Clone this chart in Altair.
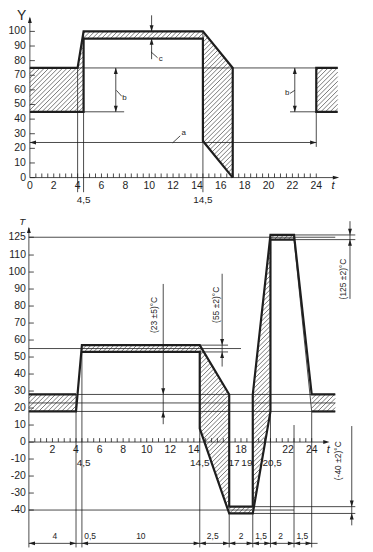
import altair as alt
import pandas as pd
import numpy as np

# ------------------------------------------------------------------
# TOP PANEL  (t in h, Y = relative humidity %)
# ------------------------------------------------------------------
top_y_ticks = [0, 10, 20, 30, 40, 50, 60, 70, 80, 90, 100]
top_x_ticks = [0, 2, 4, 6, 8, 10, 12, 14, 16, 18, 20, 22, 24]
top_minor = [0.5, 1, 1.5, 2, 2.5, 3, 3.5, 4, 4.5, 5, 5.5, 6, 6.5, 7, 7.5, 8, 8.5, 9,
             9.5, 10, 10.5, 11, 11.5, 12, 12.5, 13, 13.5, 14, 14.5, 15, 15.5, 16,
             16.5, 17, 17.5, 18, 18.5, 19, 19.5, 20, 20.5, 21, 21.5, 22, 22.5, 23,
             23.5, 24]
top_extra_labels = [("4,5", 4.5), ("14,5", 14.5)]

top_thick = {
    "upper": [(0, 75), (4, 75), (4.5, 100), (14.5, 100), (17, 75), (17, 0)],
    "lower": [(0, 45), (4.5, 45), (4.5, 95), (14.5, 95), (14.5, 25), (17, 0)],
    "box": [(25.8, 75), (24, 75), (24, 45), (25.8, 45)],
}
top_hatch = [
    [(0, 45), (4.5, 45), (4.5, 100), (4, 75), (0, 75)],
    [(4.5, 95), (14.5, 95), (14.5, 25), (17, 0), (17, 75), (14.5, 100), (4.5, 100)],
    [(24, 45), (25.8, 45), (25.8, 75), (24, 75)],
]
top_thin = [
    (0, 75, 25.8, 75), (4, 75, 4, -10), (4.5, 100, 4.5, -10), (14.5, 100, 14.5, -10),
    (4.5, 45, 7.9, 45), (21.8, 45, 24, 45),
    (7.2, 45, 7.2, 75), (22.2, 45, 22.2, 75),
    (0, 24, 24, 24), (24, 45, 24, 21),
    (10.2, 111, 10.2, 100), (10.2, 95, 10.2, 81),
    (10.15, 86, 10.7, 82), (7.25, 59.7, 7.7, 55.6), (21.8, 57.6, 22.2, 59.7),
    (11.97, 23.8, 12.6, 28.6),
    (0, 0, 0, 109), (0, 0, 25.6, 0),
]
top_arrows = [(7.2, 75, "up"), (7.2, 45, "down"), (22.2, 75, "up"), (22.2, 45, "down"),
              (0, 24, "left"), (24, 24, "right"), (10.2, 100, "down"), (10.2, 95, "up"),
              (0, 110, "up"), (25.9, 0, "right")]
top_letters = [("c", 10.8, 81, "left"), ("b", 7.75, 54.4, "left"),
               ("b", 21.75, 57.8, "right"), ("a", 12.7, 30.5, "left")]

# ------------------------------------------------------------------
# BOTTOM PANEL  (t in h, T = temperature °C)
# ------------------------------------------------------------------
bot_y_ticks = [125, 110, 100, 90, 80, 70, 60, 50, 40, 30, 20, 10, 0, -10, -20, -30, -40]
bot_x_ticks = [2, 4, 6, 8, 10, 12, 14, 18, 22, 24]
bot_minor = top_minor
bot_extra_labels = [("4,5", 4.65), ("14,5", 14.5), ("17", 17.4), ("19", 18.5), ("20,5", 20.65)]
bot_dim_bounds = [0, 4, 4.5, 14.5, 17, 19, 20.5, 22.5, 24]
bot_dim_labels = [("4", 2.2), ("0,5", 5.2), ("10", 9.5), ("2,5", 15.6), ("2", 18.0),
                  ("1,5", 19.7), ("2", 21.35), ("1,5", 23.2)]

bot_thick = {
    "boxL_top": [(0, 28), (4, 28)],
    "outer": [(0, 18), (4, 18), (4.5, 57), (14.5, 57), (17, 28), (17, -38), (19, -38),
              (19, 28), (20.5, 127), (22.5, 127), (24, 28), (26, 28)],
    "inner": [(4.5, 53), (14.5, 53), (14.5, 8), (17, -42), (19, -42), (20.5, 18),
              (20.5, 123), (22.5, 123)],
    "boxR_bot": [(24, 18), (26, 18)],
}
bot_hatch = [
    [(0, 18), (4, 18), (4, 28), (0, 28)],
    [(4.5, 53), (14.5, 53), (14.5, 8), (17, -42), (19, -42), (19, -38), (17, -38),
     (17, 28), (14.5, 57), (4.5, 57)],
    [(19, -42), (20.5, 18), (20.5, 123), (22.5, 123), (22.5, 127), (20.5, 127),
     (19, 28), (19, -38)],
    [(24, 18), (26, 18), (26, 28), (24, 28)],
]
bot_thin = [
    (0, 28, 26, 28), (0, 23, 26, 23), (0, 18, 26, 18), (0, 55, 18, 55),
    (0, 125, 26, 125), (0, -40, 22.5, -40),
    (14.5, 57, 16.9, 57), (14.5, 53, 16.9, 53),
    (22.5, 127, 27.7, 127), (22.5, 123, 27.7, 123),
    (19, -38, 27.7, -38), (19, -42, 27.7, -42),
    (4, 28, 4, -62), (4.5, 53, 4.5, -62), (14.5, 8, 14.5, -62), (17, -42, 17, -62),
    (19, -42, 19, -62), (20.5, 18, 20.5, -62), (22.5, 10, 22.5, -62), (24, 18, 24, -62),
    (22.5, 123, 22.5, 127), (22.5, 123, 24, 18),
    (11.4, 93, 11.4, 10.5), (16.4, 99, 16.4, 44.4),
    (27.25, 139, 27.25, 84.2), (27.4, 9.4, 27.4, -49),
    (0, -59.6, 24.5, -59.6),
    (0, -62, 0, 133), (0, 0, 25.2, 0),
]
bot_arrows = [(11.4, 28, "down"), (11.4, 18, "up"), (16.4, 57, "down"), (16.4, 53, "up"),
              (27.25, 127, "down"), (27.25, 123, "up"), (27.4, -38, "down"),
              (27.4, -42, "up"), (0, 134, "up"), (25.5, 0, "right")]
bot_rot_texts = [("(23 ±5)°C", 10.6, 74.8), ("(55 ±2)°C", 15.9, 80.7),
                 ("(125 ±2)°C", 26.7, 95.9), ("(-40 ±2)°C", 26.2, -11)]

# ------------------------------------------------------------------
# scales (page geometry)
# ------------------------------------------------------------------
W = 357
H1, H2 = 197, 344
TKX, TX_MIN = 12.0, -20 / 12.0
TKY, TY_MIN = 1.47, -20.4
TX_MAX = TX_MIN + W / TKX
TY_MAX = TY_MIN + H1 / TKY
BKX, BX_MIN = 11.85, -19 / 11.85
BX_MAX = BX_MIN + W / BKX
B_DOM = [-63.2, 110, 125, 151]
B_RNG = [344, 47.9, 30, 0]
B_UP = [H2 - r for r in B_RNG]

def top_px(t, v):
    return (t - TX_MIN) * TKX, (v - TY_MIN) * TKY

def top_dt(x, u):
    return x / TKX + TX_MIN, u / TKY + TY_MIN

def bot_px(t, v):
    return (t - BX_MIN) * BKX, float(np.interp(v, B_DOM, B_UP))

def bot_dt(x, u):
    return x / BKX + BX_MIN, float(np.interp(u, B_UP, B_DOM))


def hatch(poly, to_px, to_dt, step=4.6):
    P = [to_px(t, v) for t, v in poly]
    cs = [x - u for x, u in P]
    segs = []
    k0, k1 = int(np.floor(min(cs) / step)), int(np.ceil(max(cs) / step))
    n = len(P)
    for k in range(k0, k1 + 1):
        c = k * step + 0.3
        xs = []
        for i in range(n):
            x1, u1 = P[i]
            x2, u2 = P[(i + 1) % n]
            d1, d2 = x1 - u1 - c, x2 - u2 - c
            if (d1 < 0) != (d2 < 0):
                s = d1 / (d1 - d2)
                xs.append(x1 + s * (x2 - x1))
        xs.sort()
        for a, b in zip(xs[0::2], xs[1::2]):
            t1, v1 = to_dt(a, a - c)
            t2, v2 = to_dt(b, b - c)
            segs.append((t1, v1, t2, v2))
    return segs


def arrow_rows(arrows, to_px, to_dt, d=3.0):
    rows = []
    ang = {"up": 0, "right": 90, "down": 180, "left": 270}
    for t, v, dr in arrows:
        x, u = to_px(t, v)
        if dr == "up":
            u -= d
        elif dr == "down":
            u += d
        elif dr == "right":
            x -= d
        else:
            x += d
        tt, vv = to_dt(x, u)
        rows.append({"t": tt, "v": vv, "ang": ang[dr]})
    return pd.DataFrame(rows)


INK = "#1e1e1e"
FONT = "Liberation Sans"
ARROW = "M0,-1L0.62,1L-0.62,1Z"


def panel(xs, ys, hatch_polys, thick, thin, minor, tick_h, ylabels, ylab_t, ytick_w,
          to_px, to_dt, arrows, height):
    X = lambda f="t": alt.X(f"{f}:Q", scale=xs, axis=None)
    Y = lambda f="v": alt.Y(f"{f}:Q", scale=ys, axis=None)

    hs = []
    for p in hatch_polys:
        hs += hatch(p, to_px, to_dt)
    hdf = pd.DataFrame(hs, columns=["t", "v", "t2", "v2"])
    layers = [alt.Chart(hdf).mark_rule(color=INK, strokeWidth=0.6).encode(
        x=X(), y=Y(), x2="t2:Q", y2="v2:Q")]

    segs = list(thin)
    segs += [(m, 0, m, tick_h) for m in minor]
    segs += [(0, yv, ytick_w, yv) for yv in ylabels]
    tdf = pd.DataFrame(segs, columns=["t", "v", "t2", "v2"])
    layers.append(alt.Chart(tdf).mark_rule(color=INK, strokeWidth=0.8).encode(
        x=X(), y=Y(), x2="t2:Q", y2="v2:Q"))

    rows = []
    for name, pts in thick.items():
        for i, (t, v) in enumerate(pts):
            rows.append({"path": name, "i": i, "t": t, "v": v})
    layers.append(alt.Chart(pd.DataFrame(rows)).mark_line(
        color=INK, strokeWidth=2.2, strokeJoin="miter").encode(
        x=X(), y=Y(), detail="path:N", order="i:Q"))

    adf = arrow_rows(arrows, to_px, to_dt)
    layers.append(alt.Chart(adf).mark_point(
        shape=ARROW, filled=True, color=INK, size=40, opacity=1).encode(
        x=X(), y=Y(), angle=alt.Angle("ang:Q", scale=None)))

    ldf = pd.DataFrame({"t": [ylab_t] * len(ylabels), "v": ylabels,
                        "s": [str(v) for v in ylabels]})
    layers.append(alt.Chart(ldf).mark_text(
        align="right", baseline="middle", font=FONT, fontSize=10.5, color=INK).encode(
        x=X(), y=Y(), text="s:N"))
    return layers


# ---------------- top panel ----------------
xs_top = alt.Scale(domain=[TX_MIN, TX_MAX], nice=False, zero=False)
ys_top = alt.Scale(domain=[TY_MIN, TY_MAX], nice=False, zero=False)
L = panel(xs_top, ys_top, top_hatch, top_thick, top_thin, top_minor, 2.8,
          top_y_ticks, -0.33, 0.42, top_px, top_dt, top_arrows, H1)
Xt = alt.X("t:Q", scale=xs_top, axis=None)
Yt = alt.Y("v:Q", scale=ys_top, axis=None)

xl = pd.DataFrame({"t": top_x_ticks, "v": [-5.8] * len(top_x_ticks),
                   "s": [str(v) for v in top_x_ticks]})
L.append(alt.Chart(xl).mark_text(baseline="middle", font=FONT, fontSize=10.5,
                                 color=INK).encode(x=Xt, y=Yt, text="s:N"))
el = pd.DataFrame({"t": [p for _, p in top_extra_labels],
                   "v": [-15.5] * len(top_extra_labels),
                   "s": [s for s, _ in top_extra_labels]})
L.append(alt.Chart(el).mark_text(baseline="middle", font=FONT, fontSize=10,
                                 color=INK).encode(x=Xt, y=Yt, text="s:N"))
for s, t, v, al in top_letters:
    L.append(alt.Chart(pd.DataFrame({"t": [t], "v": [v], "s": [s]})).mark_text(
        align=al, baseline="middle", font=FONT, fontSize=8, color=INK).encode(
        x=Xt, y=Yt, text="s:N"))
L.append(alt.Chart(pd.DataFrame({"t": [-0.3], "v": [110.2], "s": ["Y"]})).mark_text(
    align="right", baseline="middle", font=FONT, fontSize=14, color=INK).encode(
    x=Xt, y=Yt, text="s:N"))
L.append(alt.Chart(pd.DataFrame({"t": [25.4], "v": [-6], "s": ["t"]})).mark_text(
    baseline="middle", font=FONT, fontSize=11, fontStyle="italic", color=INK).encode(
    x=Xt, y=Yt, text="s:N"))
top = alt.layer(*L).properties(width=W, height=H1)

# ---------------- bottom panel ----------------
xs_bot = alt.Scale(domain=[BX_MIN, BX_MAX], nice=False, zero=False)
ys_bot = alt.Scale(domain=B_DOM, range=B_RNG, nice=False, zero=False)
L = panel(xs_bot, ys_bot, bot_hatch, bot_thick, bot_thin, bot_minor, 2.3,
          bot_y_ticks, -0.25, 0.42, bot_px, bot_dt, bot_arrows, H2)
Xb = alt.X("t:Q", scale=xs_bot, axis=None)
Yb = alt.Y("v:Q", scale=ys_bot, axis=None)

xl = pd.DataFrame({"t": bot_x_ticks, "v": [-4.6] * len(bot_x_ticks),
                   "s": [str(v) for v in bot_x_ticks]})
L.append(alt.Chart(xl).mark_text(baseline="middle", font=FONT, fontSize=10.5,
                                 color=INK).encode(x=Xb, y=Yb, text="s:N"))
el = pd.DataFrame({"t": [p for _, p in bot_extra_labels],
                   "v": [-12.3] * len(bot_extra_labels),
                   "s": [s for s, _ in bot_extra_labels]})
L.append(alt.Chart(el).mark_text(baseline="middle", font=FONT, fontSize=10,
                                 color=INK).encode(x=Xb, y=Yb, text="s:N"))
dl = pd.DataFrame({"t": [p for _, p in bot_dim_labels],
                   "v": [-55.3] * len(bot_dim_labels),
                   "s": [s for s, _ in bot_dim_labels]})
L.append(alt.Chart(dl).mark_text(baseline="middle", font=FONT, fontSize=8.5,
                                 color=INK).encode(x=Xb, y=Yb, text="s:N"))
# dimension-row arrowheads
dim_arrows = [(b, -59.6, "left") for b in bot_dim_bounds[:1] + bot_dim_bounds[2:-1]]
dim_arrows += [(b, -59.6, "right") for b in bot_dim_bounds[1:2] + bot_dim_bounds[3:]]
dadf = arrow_rows(dim_arrows, bot_px, bot_dt)
L.append(alt.Chart(dadf).mark_point(shape=ARROW, filled=True, color=INK, size=40,
                                    opacity=1).encode(
    x=Xb, y=Yb, angle=alt.Angle("ang:Q", scale=None)))
rt = pd.DataFrame(bot_rot_texts, columns=["s", "t", "v"])
L.append(alt.Chart(rt).mark_text(angle=270, baseline="middle", font=FONT, fontSize=8.5,
                                 color=INK).encode(x=Xb, y=Yb, text="s:N"))
L.append(alt.Chart(pd.DataFrame({"t": [-0.3], "v": [138], "s": ["T"]})).mark_text(
    align="right", baseline="middle", font=FONT, fontSize=10, fontStyle="italic",
    color=INK).encode(x=Xb, y=Yb, text="s:N"))
L.append(alt.Chart(pd.DataFrame({"t": [25.4], "v": [-4.8], "s": ["t"]})).mark_text(
    baseline="middle", font=FONT, fontSize=11, fontStyle="italic", color=INK).encode(
    x=Xb, y=Yb, text="s:N"))
bottom = alt.layer(*L).properties(width=W, height=H2)

chart = alt.vconcat(top, bottom, spacing=0).properties(
    padding=0, background="white").configure_view(stroke=None)

chart.save("out.html", embed_options={"renderer": "svg", "actions": False})
